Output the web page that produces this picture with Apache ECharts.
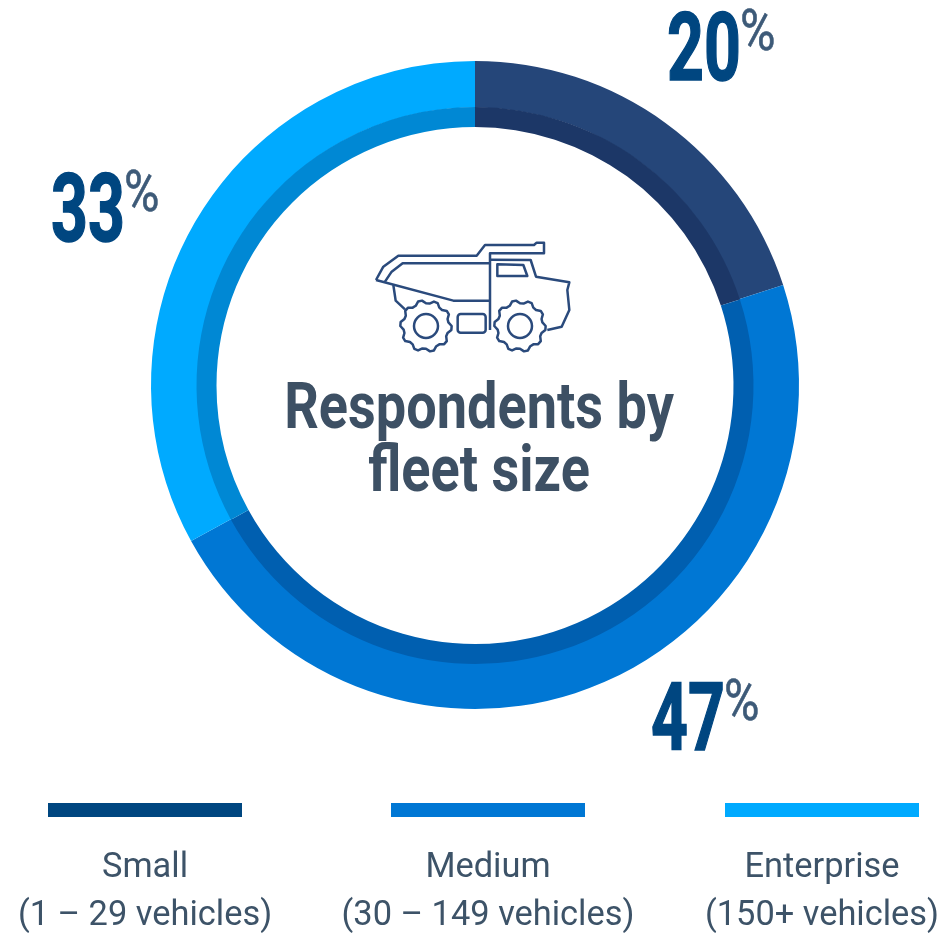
<!DOCTYPE html>
<html><head><meta charset="utf-8">
<style>html,body{margin:0;padding:0;background:#fff}#c{width:938px;height:938px}</style>
<script src="https://cdn.jsdelivr.net/npm/echarts@6/dist/echarts.min.js"></script>
</head><body><div id="c"></div>
<script>
const categories = ['Small', 'Medium', 'Enterprise'];
const ranges = ['(1 – 29 vehicles)', '(30 – 149 vehicles)', '(150+ vehicles)'];
const shares = [20, 47, 33];
const outerColors = ['#254679', '#0077D4', '#00AAFF'];
const innerColors = ['#1C3767', '#005FB0', '#0088D4'];
const legendColors = ['#004680', '#0077D4', '#00AAFF'];
const titleLines = ['Respondents by', 'fleet size'];

const cx = 475, cy = 385;
const pieData = colors => categories.map((name, i) => ({ name, value: shares[i], itemStyle: { color: colors[i] } }));
const pieBase = {
  type: 'pie', startAngle: 90, clockwise: true, silent: true, animation: false,
  label: { show: false }, labelLine: { show: false }, emphasis: { disabled: true }, padAngle: 0
};

// label anchors (number's left edge, baseline)
const labelAnchors = [[667, 82], [651, 752], [51, 243]];
const legendX = [[48, 145], [391, 488], [725, 822]];

const graphic = [];
// default text origin is its top; Roboto's baseline sits 0.775em below it
function txt(str, x, base, size, weight, fill, align, scaleX, extra) {
  graphic.push({ type: 'text', x, y: base - 0.775 * size, scaleX: scaleX || 1, silent: true,
    style: Object.assign({ text: str, font: weight + ' ' + size + 'px Roboto', fill, align }, extra || {}) });
}
categories.forEach((name, i) => {
  const [ax, ay] = labelAnchors[i];
  txt(String(shares[i]), ax, ay, 94, 700, '#004680', 'left', 0.685, { stroke: '#004680', lineWidth: 1.5 });
  txt('%', ax + 73, ay - 31, 57, 400, '#3D5A78', 'left', 0.85, { stroke: '#3D5A78', lineWidth: 0.6 });
  graphic.push({ type: 'rect', silent: true, shape: { x: legendX[i][0], y: 803, width: 194, height: 14 }, style: { fill: legendColors[i] } });
  txt(name, legendX[i][1], 878, 34.4, 400, '#3D5368', 'center');
  txt(ranges[i], legendX[i][1], 926, 34.4, 400, '#3D5368', 'center');
});
titleLines.forEach((t, i) => txt(t, 479, 430 + i * 63, 64, 700, '#3D5064', 'center', 0.845));

// truck icon, given in the reference's 3x crop units
const ix = p => [360 + p[0] / 3, 230 + p[1] / 3];
function wheelPoints(c, r, teeth) {
  const out = [], n = teeth * 4;
  for (let k = 0; k < n; k++) {
    const a = k / n * Math.PI * 2;
    const rr = (k % 4 === 0 || k % 4 === 1) ? r : r - 9;
    out.push([c[0] + rr * Math.cos(a), c[1] + rr * Math.sin(a)]);
  }
  return out;
}
const iconStyle = { fill: 'none', stroke: '#2A4A7C', lineWidth: 2.5, lineJoin: 'round' };
const truckLines = [
  [[48,150],[70,110],[115,77],[350,77],[375,45],[522,45],[530,38],[552,38],[552,70],[390,70],[390,300]],
  [[75,155],[95,125],[128,100],[390,100]],
  [[48,150],[280,212],[390,212]],
  [[100,165],[107,212],[135,238]],
  [[390,89],[512,90],[528,140],[628,157],[622,180],[628,240],[605,290],[562,300]]
];
const truckShapes = [
  [[412,103],[490,105],[502,138],[412,138]],
  wheelPoints([198,288], 77, 10),
  wheelPoints([480,288], 77, 10)
];
truckLines.forEach(l => graphic.push({ type: 'polyline', silent: true, shape: { points: l.map(ix) }, style: iconStyle }));
truckShapes.forEach(l => graphic.push({ type: 'polygon', silent: true, shape: { points: l.map(ix) }, style: iconStyle }));
graphic.push({ type: 'rect', silent: true, shape: { x: 360 + 293 / 3, y: 230 + 252 / 3, width: 28, height: 18.7, r: 3 }, style: iconStyle });
[[198,288],[480,288]].forEach(c => {
  const [x, y] = ix(c);
  graphic.push({ type: 'circle', silent: true, shape: { cx: x, cy: y, r: 12 }, style: iconStyle });
});

const chart = echarts.init(document.getElementById('c'), null, { renderer: 'canvas' });
chart.setOption({
  animation: false,
  backgroundColor: '#fff',
  series: [
    Object.assign({}, pieBase, { center: [cx, cy], radius: [277.5, 324], data: pieData(outerColors) }),
    Object.assign({}, pieBase, { center: [cx, cy + 0.5], radius: [258.5, 278.5], data: pieData(innerColors) })
  ],
  graphic
});
</script></body></html>
